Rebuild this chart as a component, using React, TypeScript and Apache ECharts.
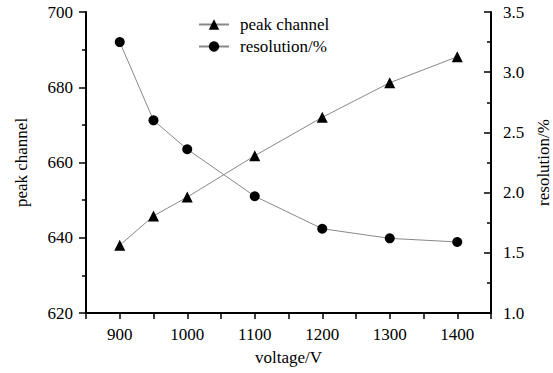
import React, { useEffect, useRef } from "react";
import * as echarts from "echarts";

const voltages = [900, 950, 1000, 1100, 1200, 1300, 1400];
const peakChannel = [638.0, 645.8, 650.8, 661.8, 672.0, 681.2, 688.1];
const resolution = [3.25, 2.60, 2.36, 1.97, 1.70, 1.62, 1.59];
const seriesNames = ["peak channel", "resolution/%"];

const FONT = "Liberation Serif";

export default function App() {
  const ref = useRef<HTMLDivElement>(null);
  useEffect(() => {
    if (!ref.current) return;
    const chart = echarts.init(ref.current, undefined, { renderer: "svg" });
    const axisLineStyle = { color: "#000", width: 2 };
    chart.setOption({
      animation: false,
      backgroundColor: "#fff",
      textStyle: { fontFamily: FONT, color: "#000" },
      grid: { left: 86, right: 62, top: 12, bottom: 60, containLabel: false, outerBoundsMode: "none" },
      legend: {
        orient: "vertical",
        left: 193,
        top: 11,
        itemWidth: 30,
        itemHeight: 13,
        itemGap: 5,
        textStyle: { fontFamily: FONT, fontSize: 17, color: "#000", padding: [0, 0, 0, 6] },
        data: seriesNames,
      },
      xAxis: {
        type: "value",
        min: 850,
        max: 1450,
        interval: 50,
        name: "voltage/V",
        nameLocation: "middle",
        nameGap: 36,
        nameTextStyle: { fontFamily: FONT, fontSize: 17, color: "#000" },
        axisLine: { show: true, lineStyle: axisLineStyle },
        axisTick: { show: true, length: 6, lineStyle: { color: "#000", width: 1.5 } },
        splitLine: { show: false },
        axisLabel: {
          fontFamily: FONT,
          fontSize: 17,
          color: "#000",
          margin: 13,
          showMinLabel: true,
          showMaxLabel: true,
          formatter: (v: number) => (v % 100 === 0 && v >= 900 && v <= 1400 ? String(v) : ""),
        },
      },
      yAxis: [
        {
          type: "value",
          min: 620,
          max: 700,
          interval: 20,
          position: "left",
          name: "peak channel",
          nameLocation: "middle",
          nameGap: 56,
          nameRotate: 90,
          nameTextStyle: { fontFamily: FONT, fontSize: 17, color: "#000" },
          axisLine: { show: true, lineStyle: axisLineStyle },
          axisTick: { show: true, length: 7, lineStyle: { color: "#000", width: 1.5 } },
          minorTick: { show: true, splitNumber: 2, length: 4, lineStyle: { color: "#000", width: 1.5 } },
          splitLine: { show: false },
          axisLabel: { fontFamily: FONT, fontSize: 17, color: "#000", margin: 13 },
        },
        {
          type: "value",
          min: 1.0,
          max: 3.5,
          interval: 0.5,
          position: "right",
          name: "resolution/%",
          nameLocation: "middle",
          nameGap: 43,
          nameRotate: 90,
          nameTextStyle: { fontFamily: FONT, fontSize: 17, color: "#000" },
          axisLine: { show: true, lineStyle: axisLineStyle },
          axisTick: { show: true, inside: true, length: 7, lineStyle: { color: "#000", width: 1.5 } },
          minorTick: { show: true, splitNumber: 2, length: 4, lineStyle: { color: "#000", width: 1.5 } },
          splitLine: { show: false },
          axisLabel: {
            fontFamily: FONT,
            fontSize: 17,
            color: "#000",
            margin: 12,
            formatter: (v: number) => v.toFixed(1),
          },
        },
      ],
      series: [
        {
          name: seriesNames[0],
          type: "line",
          yAxisIndex: 0,
          data: voltages.map((v, i) => [v, peakChannel[i]]),
          symbol: "triangle",
          symbolSize: 11,
          itemStyle: { color: "#000" },
          lineStyle: { color: "#888", width: 1 },
        },
        {
          name: seriesNames[1],
          type: "line",
          yAxisIndex: 1,
          data: voltages.map((v, i) => [v, resolution[i]]),
          symbol: "circle",
          symbolSize: 10,
          itemStyle: { color: "#000" },
          lineStyle: { color: "#888", width: 1 },
        },
      ],
    });
    return () => chart.dispose();
  }, []);
  return (
    <div
      ref={ref}
      style={{ position: "fixed", left: 0, top: 0, width: 553, height: 373, background: "#fff" }}
    />
  );
}
